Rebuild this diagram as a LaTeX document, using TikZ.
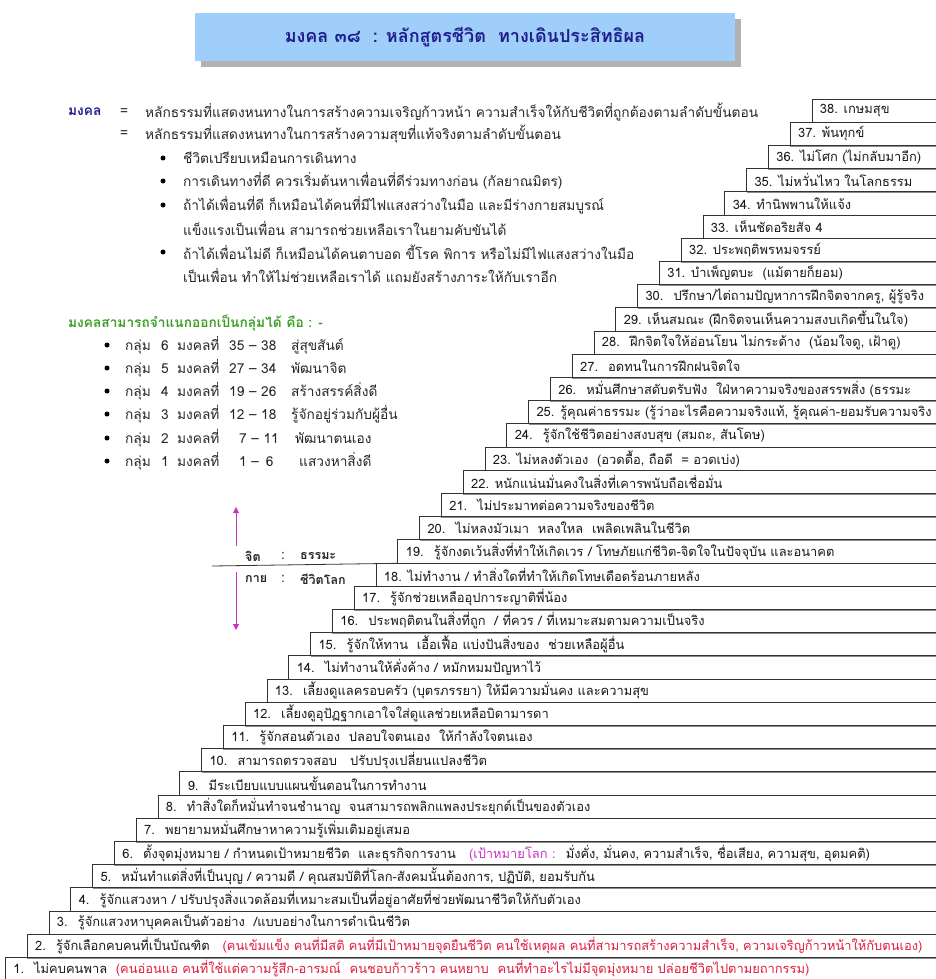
\documentclass[tikz,border=0pt]{standalone}
\usepackage{fontspec}
\setmainfont{Loma}[Script=Thai]
\usetikzlibrary{arrows.meta,shadows}

\definecolor{titleblue}{RGB}{160,206,250}
\definecolor{navyink}{RGB}{30,30,140}
\definecolor{groupgreen}{RGB}{60,160,40}
\definecolor{markred}{RGB}{225,30,60}
\definecolor{markpink}{RGB}{200,50,200}

\tikzset{
  titlebox/.style={fill=titleblue, minimum width=540pt, minimum height=48pt,
    text=navyink, font=\bfseries\fontsize{18}{20}\selectfont,
    drop shadow={shadow xshift=6pt, shadow yshift=-6pt, fill=black!30, opacity=1}},
  note/.style={anchor=west, inner sep=0pt, text=black!85, font=\fontsize{13.7}{15}\selectfont},
  boldnote/.style={note, font=\bfseries\fontsize{13.7}{15}\selectfont},
  dot/.style={circle, fill=black, inner sep=0pt, minimum size=5pt},
  stepbox/.style={draw=black!80, line width=0.7pt, fill=white, anchor=north west,
    minimum height=23.2pt, inner xsep=8pt, inner ysep=0pt, text=black!90,
    font=\fontsize{12.9}{14}\selectfont,
    drop shadow={shadow xshift=0pt, shadow yshift=-1.2pt, fill=black!45, opacity=1}},
  updown/.style={-{Triangle[width=6pt,length=6pt]}, markpink, line width=1pt}
}

% one step of the staircase, numbered from the bottom
\newcommand{\mstep}[2]{%
  \pgfmathsetmacro{\stx}{5+(#1-1)*21.8}%
  \pgfmathsetmacro{\sty}{957-(#1-1)*23.2}%
  \pgfmathsetmacro{\stw}{945-\stx}%
  \node[stepbox] (s#1) at (\stx,\sty) {\makebox[\stw pt][l]{#2}};%
}

\begin{document}
\begin{tikzpicture}[x=1pt, y=-1pt]
    \useasboundingbox (0,0) rectangle (936,979);

    \node[titlebox] (title) at (465,37) {มงคล ๓๘ ~: หลักสูตรชีวิต~ ทางเดินประสิทธิผล};

    % what mongkhol means
    \node[boldnote, text=navyink] (mk) at (68,112) {มงคล};
    \node[note] (eq1) at (120,112) {=};
    \node[note] (def1) at (145,112) {หลักธรรมที่แสดงหนทางในการสร้างความเจริญก้าวหน้า ความสำเร็จให้กับชีวิตที่ถูกต้องตามลำดับขั้นตอน};
    \node[note] (eq2) at (120,134) {=};
    \node[note] (def2) at (145,134) {หลักธรรมที่แสดงหนทางในการสร้างความสุขที่แท้จริงตามลำดับขั้นตอน};
    \node[dot] (d1) at (163,158) {};
    \node[note] (l1) at (183,158) {ชีวิตเปรียบเหมือนการเดินทาง};
    \node[dot] (d2) at (163,181) {};
    \node[note] (l2) at (183,181) {การเดินทางที่ดี ควรเริ่มต้นหาเพื่อนที่ดีร่วมทางก่อน (กัลยาณมิตร)};
    \node[dot] (d3) at (163,205) {};
    \node[note] (l3) at (183,205) {ถ้าได้เพื่อนที่ดี ก็เหมือนได้คนที่มีไฟแสงสว่างในมือ และมีร่างกายสมบูรณ์};
    \node[note] (l3b) at (183,228) {แข็งแรงเป็นเพื่อน สามารถช่วยเหลือเราในยามคับขันได้};
    \node[dot] (d4) at (163,252) {};
    \node[note] (l4) at (183,252) {ถ้าได้เพื่อนไม่ดี ก็เหมือนได้คนตาบอด ขี้โรค พิการ หรือไม่มีไฟแสงสว่างในมือ};
    \node[note] (l4b) at (183,275) {เป็นเพื่อน ทำให้ไม่ช่วยเหลือเราได้ แถมยังสร้างภาระให้กับเราอีก};

    % groups
    \node[boldnote, text=groupgreen] (ghead) at (68,323) {มงคลสามารถจำแนกออกเป็นกลุ่มได้ คือ : -};
    \node[dot] (gd6) at (107,345) {};
    \node[note] (g6) at (125,345) {\makebox[36pt][l]{กลุ่ม}\makebox[16pt][l]{6}\makebox[52pt][l]{มงคลที่}\makebox[62pt][l]{35 – 38}สู่สุขสันต์};
    \node[dot] (gd5) at (107,368) {};
    \node[note] (g5) at (125,368) {\makebox[36pt][l]{กลุ่ม}\makebox[16pt][l]{5}\makebox[52pt][l]{มงคลที่}\makebox[62pt][l]{27 – 34}พัฒนาจิต};
    \node[dot] (gd4) at (107,391) {};
    \node[note] (g4) at (125,391) {\makebox[36pt][l]{กลุ่ม}\makebox[16pt][l]{4}\makebox[52pt][l]{มงคลที่}\makebox[62pt][l]{19 – 26}สร้างสรรค์สิ่งดี};
    \node[dot] (gd3) at (107,414) {};
    \node[note] (g3) at (125,414) {\makebox[36pt][l]{กลุ่ม}\makebox[16pt][l]{3}\makebox[52pt][l]{มงคลที่}\makebox[62pt][l]{12 – 18}รู้จักอยู่ร่วมกับผู้อื่น};
    \node[dot] (gd2) at (107,438) {};
    \node[note] (g2) at (125,438) {\makebox[36pt][l]{กลุ่ม}\makebox[16pt][l]{2}\makebox[52pt][l]{มงคลที่}\makebox[62pt][l]{\hspace{10pt}7 – 11}\hspace{4pt}พัฒนาตนเอง};
    \node[dot] (gd1) at (107,461) {};
    \node[note] (g1) at (125,461) {\makebox[36pt][l]{กลุ่ม}\makebox[16pt][l]{1}\makebox[52pt][l]{มงคลที่}\makebox[62pt][l]{\hspace{10pt}1 – \,6}\hspace{8pt}แสวงหาสิ่งดี};

    % the staircase
    \mstep{1}{1.~ ไม่คบคนพาล~ \textcolor{markred}{(คนอ่อนแอ คนที่ใช้แต่ความรู้สึก-อารมณ์~ คนชอบก้าวร้าว คนหยาบ~ คนที่ทำอะไรไม่มีจุดมุ่งหมาย ปล่อยชีวิตไปตามยถากรรม)}}
    \mstep{2}{2.~ รู้จักเลือกคบคนที่เป็นบัณฑิต~~ \textcolor{markred}{(คนเข้มแข็ง คนที่มีสติ คนที่มีเป้าหมายจุดยืนชีวิต คนใช้เหตุผล คนที่สามารถสร้างความสำเร็จ, ความเจริญก้าวหน้าให้กับตนเอง)}}
    \mstep{3}{3.~ รู้จักแสวงหาบุคคลเป็นตัวอย่าง~ /แบบอย่างในการดำเนินชีวิต}
    \mstep{4}{4.~ รู้จักแสวงหา / ปรับปรุงสิ่งแวดล้อมที่เหมาะสมเป็นที่อยู่อาศัยที่ช่วยพัฒนาชีวิตให้กับตัวเอง}
    \mstep{5}{5.~ หมั่นทำแต่สิ่งที่เป็นบุญ / ความดี / คุณสมบัติที่โลก-สังคมนั้นต้องการ, ปฏิบัติ, ยอมรับกัน}
    \mstep{6}{6.~ ตั้งจุดมุ่งหมาย / กำหนดเป้าหมายชีวิต~ และธุรกิจการงาน~~ \textcolor{markpink}{(เป้าหมายโลก :}~ มั่งคั่ง, มั่นคง, ความสำเร็จ, ชื่อเสียง, ความสุข, อุดมคติ)}
    \mstep{7}{7.~ พยายามหมั่นศึกษาหาความรู้เพิ่มเติมอยู่เสมอ}
    \mstep{8}{8.~ ทำสิ่งใดก็หมั่นทำจนชำนาญ~ จนสามารถพลิกแพลงประยุกต์เป็นของตัวเอง}
    \mstep{9}{9.~ มีระเบียบแบบแผนขั้นตอนในการทำงาน}
    \mstep{10}{10.~ สามารถตรวจสอบ~~ ปรับปรุงเปลี่ยนแปลงชีวิต}
    \mstep{11}{11.~ รู้จักสอนตัวเอง~ ปลอบใจตนเอง~ ให้กำลังใจตนเอง}
    \mstep{12}{12.~ เลี้ยงดูอุปัฏฐากเอาใจใส่ดูแลช่วยเหลือบิดามารดา}
    \mstep{13}{13.~ เลี้ยงดูแลครอบครัว (บุตรภรรยา) ให้มีความมั่นคง และความสุข}
    \mstep{14}{14.~ ไม่ทำงานให้คั่งค้าง / หมักหมมปัญหาไว้}
    \mstep{15}{15.~ รู้จักให้ทาน~ เอื้อเฟื้อ แบ่งปันสิ่งของ~ ช่วยเหลือผู้อื่น}
    \mstep{16}{16.~ ประพฤติตนในสิ่งที่ถูก~ / ที่ควร / ที่เหมาะสมตามความเป็นจริง}
    \mstep{17}{17.~ รู้จักช่วยเหลืออุปการะญาติพี่น้อง}
    \mstep{18}{18. ไม่ทำงาน / ทำสิ่งใดที่ทำให้เกิดโทษเดือดร้อนภายหลัง}
    \mstep{19}{19.~ รู้จักงดเว้นสิ่งที่ทำให้เกิดเวร / โทษภัยแก่ชีวิต-จิตใจในปัจจุบัน และอนาคต}
    \mstep{20}{20.~ ไม่หลงมัวเมา~ หลงใหล~ เพลิดเพลินในชีวิต}
    \mstep{21}{21.~ ไม่ประมาทต่อความจริงของชีวิต}
    \mstep{22}{22. หนักแน่นมั่นคงในสิ่งที่เคารพนับถือเชื่อมั่น}
    \mstep{23}{23. ไม่หลงตัวเอง~ (อวดดื้อ, ถือดี~ = อวดเบ่ง)}
    \mstep{24}{24.~ รู้จักใช้ชีวิตอย่างสงบสุข (สมถะ, สันโดษ)}
    \mstep{25}{25. รู้คุณค่าธรรมะ (รู้ว่าอะไรคือความจริงแท้, รู้คุณค่า-ยอมรับความจริง}
    \mstep{26}{26.~ หมั่นศึกษาสดับตรับฟัง~ ใฝ่หาความจริงของสรรพสิ่ง (ธรรมะ}
    \mstep{27}{27.~ อดทนในการฝึกฝนจิตใจ}
    \mstep{28}{28.~ ฝึกจิตใจให้อ่อนโยน ไม่กระด้าง~ (น้อมใจดู, เฝ้าดู)}
    \mstep{29}{29. เห็นสมณะ (ฝึกจิตจนเห็นความสงบเกิดขึ้นในใจ)}
    \mstep{30}{30.~ ปรึกษา/ไต่ถามปัญหาการฝึกจิตจากครู, ผู้รู้จริง}
    \mstep{31}{31. บำเพ็ญตบะ~ (แม้ตายก็ยอม)}
    \mstep{32}{32. ประพฤติพรหมจรรย์}
    \mstep{33}{33. เห็นชัดอริยสัจ 4}
    \mstep{34}{34. ทำนิพพานให้แจ้ง}
    \mstep{35}{35. ไม่หวั่นไหว ในโลกธรรม}
    \mstep{36}{36. ไม่โศก (ไม่กลับมาอีก)}
    \mstep{37}{37. พ้นทุกข์}
    \mstep{38}{38. เกษมสุข}

    % mind above, body below
    \coordinate (sepL) at (212,566);
    \draw[line width=0.8pt, black!80] (sepL) -- (s19.south west);
    \node[boldnote, font=\bfseries\fontsize{12.5}{14}\selectfont] (jit) at (245,556) {จิต};
    \node[note] (jc) at (281,556) {:};
    \node[boldnote, font=\bfseries\fontsize{12.5}{14}\selectfont] (tham) at (300,556) {ธรรมะ};
    \node[boldnote, font=\bfseries\fontsize{12.5}{14}\selectfont] (kai) at (245,579) {กาย};
    \node[note] (kc) at (281,579) {:};
    \node[boldnote, font=\bfseries\fontsize{12.5}{14}\selectfont] (lok) at (300,579) {ชีวิตโลก};
    \coordinate (jitTop) at (236,507);
    \coordinate (jitBot) at (236,546);
    \coordinate (kaiTop) at (236,572);
    \coordinate (kaiBot) at (236,630);
    \draw[updown] (jitBot) -- (jitTop);
    \draw[updown] (kaiTop) -- (kaiBot);
\end{tikzpicture}
\end{document}
